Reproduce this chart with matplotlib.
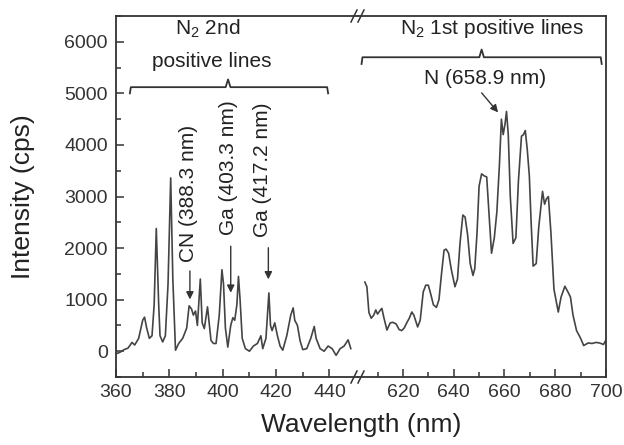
import matplotlib
matplotlib.use("Agg")
import matplotlib.pyplot as plt
from matplotlib.ticker import MultipleLocator

plt.rcParams['font.family'] = ['Liberation Sans', 'DejaVu Sans']
plt.rcParams['mathtext.fontset'] = 'custom'
plt.rcParams['mathtext.rm'] = 'Liberation Sans'

# N2 second positive region (left segment)
wl_left = [360.0, 361.5, 363.0, 364.5, 366.0, 367.0, 368.5, 370.0, 370.7, 371.5,
           372.5, 373.5, 374.3, 375.1, 376.0, 376.5, 377.5, 378.5, 379.5, 380.5,
           381.3, 382.3, 383.5, 385.0, 386.5, 387.4, 388.3, 389.0, 389.8, 390.5,
           391.6, 392.3, 393.1, 394.3, 395.6, 396.5, 397.5, 398.7, 399.7, 400.3,
           401.0, 401.9, 403.0, 403.8, 404.5, 405.3, 405.9, 406.5, 407.3, 408.5,
           410.0, 411.5, 413.0, 414.3, 415.0, 416.2, 417.3, 417.9, 418.5, 419.5,
           420.5, 421.5, 422.5, 424.0, 425.5, 426.4, 427.0, 428.0, 429.0, 430.0,
           431.5, 433.0, 434.3, 435.0, 436.5, 438.0, 439.5, 441.0, 442.5, 444.0,
           445.5, 447.0, 448.0]
int_left = [-50, -20, 30, 60, 170, 120, 250, 600, 660, 450,
            250, 300, 900, 2380, 900, 300, 180, 300, 1300, 3360,
            1400, 20, 150, 250, 450, 880, 820, 700, 780, 500,
            1400, 550, 440, 860, 210, 150, 150, 700, 1580, 1300,
            450, 80, 500, 650, 600, 900, 1450, 1000, 250, 50,
            0, 100, 150, 300, 50, 250, 1130, 500, 400, 550,
            300, 100, 20, 300, 700, 840, 600, 500, 200, 30,
            50, 250, 480, 250, 50, 0, 100, 50, -80, 50,
            100, 220, 50]

# N2 first positive region (right segment)
wl_right = [605.0, 605.8, 606.6, 607.5, 608.5, 609.3, 610.0, 611.0, 611.7, 612.5,
            613.7, 615.0, 616.0, 617.3, 618.5, 619.5, 620.5, 621.5, 622.5, 623.5,
            624.3, 625.8, 626.8, 628.0, 629.0, 630.0, 631.0, 632.0, 633.2, 634.2,
            635.2, 636.2, 637.0, 638.0, 639.0, 640.5, 641.5, 642.5, 643.6, 644.5,
            645.5, 646.5, 647.6, 648.3, 649.2, 650.0, 651.0, 652.0, 653.0, 654.0,
            654.9, 656.0, 657.0, 658.0, 658.8, 659.5, 660.2, 660.8, 661.5, 662.3,
            663.4, 664.5, 665.5, 666.7, 667.5, 668.2, 669.0, 669.8, 670.5, 671.3,
            672.5, 673.5, 675.0, 675.8, 676.5, 677.3, 678.3, 679.5, 681.2, 682.3,
            683.8, 685.0, 686.0, 687.0, 688.4, 690.0, 691.2, 693.0, 694.5, 696.0,
            697.5, 699.0, 700.0]
int_right = [1340, 1250, 750, 640, 700, 800, 720, 790, 830, 650,
             410, 550, 560, 530, 420, 400, 450, 550, 640, 760,
             700, 470, 600, 1150, 1280, 1280, 1100, 900, 850, 1000,
             1500, 1960, 1980, 1900, 1600, 1250, 1400, 2100, 2640, 2600,
             2250, 1700, 1470, 1600, 2300, 3200, 3440, 3400, 3380, 2600,
             1900, 2200, 2700, 3600, 4500, 4200, 4400, 4650, 4200, 3000,
             2090, 2200, 3300, 4170, 4200, 4280, 3900, 3400, 2500, 1650,
             1700, 2400, 3100, 2850, 2950, 3000, 2300, 1200, 760, 1050,
             1260, 1150, 1050, 700, 400, 250, 110, 160, 150, 170,
             160, 130, 220]

line_col = '#444444'
fig = plt.figure(figsize=(6.24, 4.45), dpi=100)
ax1 = fig.add_axes([116 / 624, 1 - 377 / 445, 242 / 624, 361 / 445])
ax2 = fig.add_axes([358 / 624, 1 - 377 / 445, 248 / 624, 361 / 445], sharey=ax1)

ax1.plot(wl_left, int_left, color=line_col, lw=1.2)
ax2.plot(wl_right, int_right, color=line_col, lw=1.2)

ax1.set_xlim(360, 450.7)
ax2.set_xlim(602.3, 700)
ax1.set_ylim(-500, 6500)

for ax in (ax1, ax2):
    for sp in ax.spines.values():
        sp.set_linewidth(1.3)
        sp.set_color('#333333')
    ax.tick_params(which='both', direction='in', colors='#333333', labelcolor='#333333',
                   labelsize=14, top=False, right=False)
    ax.tick_params(which='major', length=6, width=1.1)
    ax.tick_params(which='minor', length=3.5, width=1.1)
    ax.tick_params(axis='x', pad=5)

ax1.spines['right'].set_visible(False)
ax2.spines['left'].set_visible(False)
ax2.tick_params(axis='y', which='both', left=False, labelleft=False)
ax1.tick_params(axis='y', pad=6)

ax1.set_xticks([360, 380, 400, 420, 440])
ax1.set_xticks([370, 390, 410, 430], minor=True)
ax2.set_xticks([620, 640, 660, 680, 700])
ax2.set_xticks([610, 630, 650, 670, 690], minor=True)
ax1.yaxis.set_major_locator(MultipleLocator(1000))
ax1.yaxis.set_minor_locator(MultipleLocator(500))

ax1.set_ylabel('Intensity (cps)', fontsize=19, color='#222222')
ax1.yaxis.set_label_coords(-0.335, 0.5)
ax1.set_xlabel('Wavelength (nm)', fontsize=19, color='#222222')
ax1.xaxis.set_label_coords(1.012, -0.1)

# break marks on the x axis
for yf in (1 - 16 / 445, 1 - 377 / 445):
    for xc in (354, 361):
        fig.add_artist(plt.Line2D([(xc - 3) / 624, (xc + 3) / 624],
                                  [yf - 6 / 445, yf + 6 / 445],
                                  transform=fig.transFigure, color='#333333', lw=1.1))

# brackets
def bracket(ax, x0, x1, xc, y, drop, rise, hw):
    xs = [x0, x0 + hw * 0.4, xc - hw, xc, xc + hw, x1 - hw * 0.4, x1]
    ys = [y - drop, y, y, y + rise, y, y, y - drop]
    ax.plot(xs, ys, color='#333333', lw=1.3, clip_on=False)

bracket(ax1, 365.2, 439.5, 402.0, 5120, 120, 150, 0.9)
bracket(ax2, 603.7, 698.3, 651.0, 5700, 130, 150, 0.9)

ann = dict(fontsize=15, color='#222222')
ax1.text(394.5, 6250, r'N$_\mathregular{2}$ 2nd', ha='center', va='center', **ann)
ax1.text(396.0, 5610, 'positive lines', ha='center', va='center', **ann)
ax2.text(655.0, 6250, r'N$_\mathregular{2}$ 1st positive lines', ha='center', va='center', **ann)
ax2.text(652.3, 5280, 'N (658.9 nm)', ha='center', va='center', **ann)

ax1.text(387.2, 1730, 'CN (388.3 nm)', rotation=90, ha='center', va='bottom', **ann)
ax1.text(402.3, 2250, 'Ga (403.3 nm)', rotation=90, ha='center', va='bottom', **ann)
ax1.text(415.0, 2220, 'Ga (417.2 nm)', rotation=90, ha='center', va='bottom', **ann)

arrow = dict(arrowstyle='-|>', color='#333333', lw=1.0, mutation_scale=11)
ax1.annotate('', xy=(387.7, 950), xytext=(387.7, 1610), arrowprops=arrow)
ax1.annotate('', xy=(403.0, 1080), xytext=(403.0, 2090), arrowprops=arrow)
ax1.annotate('', xy=(417.1, 1340), xytext=(417.1, 2060), arrowprops=arrow)
ax2.annotate('', xy=(658.2, 4590), xytext=(650.3, 5050), arrowprops=arrow)

fig.savefig('out.png', dpi=100)
